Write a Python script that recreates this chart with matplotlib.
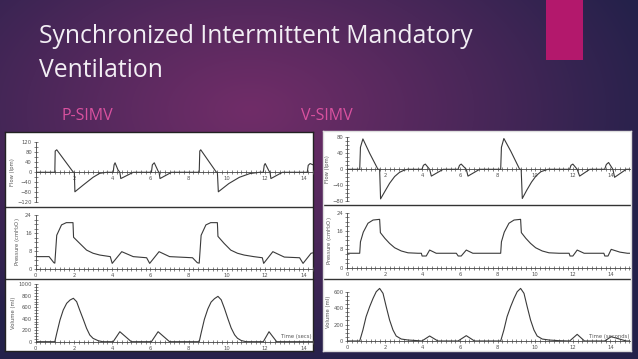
import numpy as np
import matplotlib
matplotlib.use('Agg')
import matplotlib.pyplot as plt
import matplotlib.ticker as mticker

W, H = 638, 359

# ---- P-SIMV (left) waveforms ----
p_flow_t = [0, 1.0, 1.02, 1.1, 1.97, 2.02, 2.05, 2.5, 3.0, 3.35, 3.7, 4.05, 4.1, 4.15, 4.3, 4.4, 4.45, 5.1,
            6.05, 6.1, 6.2, 6.4, 6.45, 6.5, 7.1, 8.55, 8.58, 8.63, 9.45, 9.5, 9.55, 10.1, 10.65, 11.2, 11.7,
            11.9, 11.95, 12.0, 12.2, 12.25, 12.3, 12.9, 14.2, 14.25, 14.35, 14.5]
p_flow_v = [0, 0, 85, 90, 0, 0, -78, -50, -20, -4, 0, 0, 30, 38, 10, 0, -25, 0,
            0, 30, 38, 5, 0, -25, 0, 0, 85, 90, 0, 0, -78, -45, -20, -5, 0,
            0, 28, 35, 5, 0, -25, 0, 0, 28, 35, 30]
p_pres_t = [0, 0.7, 0.95, 1.0, 1.1, 1.35, 1.6, 1.95, 1.98, 2.3, 2.66, 3.0, 3.35, 3.9, 4.0, 4.5, 5.1, 5.8,
            5.96, 6.45, 7.0, 8.2, 8.45, 8.55, 8.65, 8.9, 9.15, 9.5, 9.53, 9.85, 10.2, 10.55, 10.9, 11.4, 11.85,
            11.92, 12.4, 13.0, 13.8, 13.98, 14.4, 14.5]
p_pres_v = [5.5, 5.5, 2.8, 2.6, 15.0, 19.6, 20.6, 20.6, 14.1, 11.4, 8.4, 7.0, 6.2, 5.5, 2.5, 7.7, 5.5, 5.0,
            2.5, 7.7, 5.5, 5.0, 2.8, 2.6, 15.0, 19.6, 20.6, 20.6, 14.5, 11.4, 8.4, 7.0, 6.2, 5.5, 5.0,
            2.5, 7.7, 5.3, 5.0, 2.5, 7.0, 7.2]
p_vol_t = [0, 1.0, 1.1, 1.27, 1.44, 1.62, 1.8, 1.97, 2.14, 2.3, 2.5, 2.66, 2.83, 3.0, 3.27, 3.5, 4.05, 4.4, 5.0,
           6.05, 6.4, 7.0, 8.55, 8.65, 8.82, 9.0, 9.17, 9.35, 9.53, 9.7, 9.87, 10.05, 10.22, 10.4, 10.55, 10.75, 11.0,
           11.9, 12.2, 12.6, 14.5]
p_vol_v = [0, 0, 145, 378, 552, 669, 727, 756, 698, 552, 378, 233, 116, 58, 17, 0, 0, 174, 0,
           0, 174, 0, 0, 150, 390, 570, 690, 750, 790, 730, 580, 400, 240, 120, 60, 20, 0,
           0, 174, 0, 0]

# ---- V-SIMV (right) waveforms ----
v_flow_t = [0, 0.66, 0.7, 0.83, 1.19, 1.63, 1.72, 1.77, 1.99, 2.25, 2.52, 2.78, 3.05, 3.2, 3.97, 4.05, 4.15, 4.38,
            4.47, 5.1, 5.89, 5.97, 6.06, 6.33, 6.42, 7.04, 8.16, 8.2, 8.33, 8.7, 9.17, 9.25, 9.31, 9.55, 9.8, 10.05,
            10.3, 10.67, 11.83, 11.9, 12.0, 12.23, 12.36, 12.9, 13.69, 13.78, 13.9, 14.13, 14.22, 14.84, 15.04]
v_flow_v = [0, 0, 55, 76, 40, 0, 0, -74, -56, -35, -18, -7.5, -1.7, 0, 0, 10, 13, 0,
            -17, 0, 0, 10, 13, 0, -17, 0, 0, 55, 77, 45, 0, 0, -73, -52, -32, -16,
            -6, 0, 0, 10, 13, 0, -17, 0, 0, 12, 17, 0, -20, 0, 0]
v_pres_t = [0, 0.66, 0.7, 0.85, 1.1, 1.37, 1.72, 1.76, 2.0, 2.25, 2.52, 2.87, 3.23, 3.76, 3.94, 3.98, 4.2,
            4.38, 4.73, 5.8, 5.9, 6.06, 6.33, 6.68, 8.16, 8.2, 8.35, 8.6, 8.87, 9.22, 9.26, 9.5, 9.75, 10.02,
            10.37, 10.73, 11.26, 11.8, 11.85, 12.0, 12.23, 12.6, 13.65, 13.7, 13.87, 14.04, 14.5, 14.9, 15.04]
v_pres_v = [6.3, 6.3, 11.3, 15.5, 19.4, 20.8, 21.1, 15.3, 12.8, 10.6, 8.7, 7.3, 6.5, 6.3, 6.3, 5.1, 5.1,
            7.7, 6.3, 6.3, 5.1, 5.1, 7.7, 6.3, 6.3, 11.3, 15.5, 19.4, 20.8, 21.1, 15.3, 12.8, 10.6, 8.7,
            7.3, 6.5, 6.3, 6.3, 5.1, 5.1, 7.7, 6.3, 6.3, 5.1, 5.1, 8.0, 6.8, 6.3, 6.3]
v_vol_t = [0, 0.66, 0.83, 1.0, 1.19, 1.37, 1.54, 1.72, 1.9, 2.07, 2.25, 2.43, 2.6, 2.87, 3.23, 3.76, 3.97, 4.38,
           4.82, 5.89, 6.33, 6.77, 8.16, 8.33, 8.5, 8.69, 8.87, 9.04, 9.22, 9.4, 9.57, 9.75, 9.93, 10.1, 10.37,
           10.73, 11.26, 11.83, 12.23, 12.62, 13.69, 14.04, 14.84, 15.04]
v_vol_v = [0, 0, 134, 296, 418, 519, 600, 640, 580, 418, 255, 134, 61, 24, 12, 4, 0, 61,
           0, 0, 65, 0, 0, 134, 296, 418, 519, 600, 640, 580, 418, 255, 134, 61, 24,
           12, 4, 0, 81, 0, 0, 53, 0, 0]

fig = plt.figure(figsize=(W / 100, H / 100), dpi=100)

# background gradient of the slide
bg = fig.add_axes([0, 0, 1, 1])
yy, xx = np.mgrid[0:H, 0:W]
r = np.sqrt(((xx - 250) / 420.0) ** 2 + ((yy - 110) / 260.0) ** 2)
r = np.clip(r, 0, 1) ** 1.1
c0 = np.array([0x70, 0x2d, 0x68]) / 255
c1 = np.array([0x24, 0x21, 0x4a]) / 255
img = c0[None, None, :] * (1 - r[..., None]) + c1[None, None, :] * r[..., None]
bg.imshow(img, extent=(0, W, H, 0), aspect='auto')
bg.set_xlim(0, W)
bg.set_ylim(H, 0)
bg.axis('off')
bg.add_patch(plt.Rectangle((546, 0), 37, 60, color='#b3186c', lw=0))

fig.text(39 / W, 1 - 43 / H, 'Synchronized Intermittent Mandatory', family='Open Sans',
         fontsize=17.8, color='#f2eef4', va='baseline', ha='left')
fig.text(39 / W, 1 - 77 / H, 'Ventilation', family='Open Sans',
         fontsize=17.8, color='#f2eef4', va='baseline', ha='left')
fig.text(62 / W, 1 - 120 / H, 'P-SIMV', family='Open Sans', fontsize=11.5, color='#d9519f',
         va='baseline', ha='left')
fig.text(301 / W, 1 - 120 / H, 'V-SIMV', family='Open Sans', fontsize=11.5, color='#d9519f',
         va='baseline', ha='left')


def px_axes(x0, y0, x1, y1):
    return fig.add_axes([x0 / W, 1 - y1 / H, (x1 - x0) / W, (y1 - y0) / H])


def panel(x0, y0, x1, y1, seps, edge):
    ax = px_axes(x0, y0, x1, y1)
    ax.set_xlim(x0, x1)
    ax.set_ylim(y1, y0)
    ax.set_facecolor('white')
    ax.set_xticks([])
    ax.set_yticks([])
    for s in ax.spines.values():
        s.set_color(edge)
        s.set_linewidth(1.0)
    for s in seps:
        ax.axhline(s, color='#333333', lw=1.0)
    return ax


def trace(box, t, v, xmax, ylim, yticks, yminor, ylabel, zero_axis=False, tlabel=None):
    ax = px_axes(*box)
    ax.patch.set_alpha(0)
    ax.plot(t, v, color='#3a3a3a', lw=0.8)
    ax.set_xlim(0, xmax)
    ax.set_ylim(*ylim)
    for s in ['top', 'right']:
        ax.spines[s].set_visible(False)
    ax.spines['left'].set_position(('data', 0))
    ax.spines['left'].set_bounds(min(yticks), max(yticks))
    if zero_axis:
        ax.spines['bottom'].set_position(('data', 0))
    for s in ['left', 'bottom']:
        ax.spines[s].set_color('#444444')
        ax.spines[s].set_linewidth(0.6)
    ax.set_xticks(np.arange(0, 15, 2))
    labels = [str(x) for x in range(0, 15, 2)]
    if zero_axis:
        labels[0] = ''
    ax.set_xticklabels(labels)
    ax.xaxis.set_minor_locator(mticker.MultipleLocator(0.25))
    ax.set_yticks(yticks)
    ax.yaxis.set_minor_locator(mticker.FixedLocator(
        np.arange(min(yticks), max(yticks) + yminor / 2, yminor)))
    ax.tick_params(which='both', direction='inout', colors='#555555', width=0.5,
                   labelsize=3.8, pad=1)
    ax.tick_params(which='major', length=3.5)
    ax.tick_params(which='minor', length=2.2)
    ax.set_ylabel(ylabel, fontsize=3.8, color='#555555', labelpad=2)
    if tlabel:
        ax.text(xmax - 0.05, max(yticks) * 0.04, tlabel, fontsize=3.8, color='#555555',
                ha='right', va='bottom')
    return ax


# left picture (P-SIMV)
panel(5, 132, 313, 351, [207, 279], '#222222')
lx0, lx1 = 35.7, 313
trace((lx0, 142.3, lx1, 202.3), p_flow_t, p_flow_v, 14.5, (-120, 120),
      [-120, -80, -40, 0, 40, 80, 120], 20, 'Flow (lpm)', zero_axis=True)
trace((lx0, 215, lx1, 269), p_pres_t, p_pres_v, 14.5, (0, 24),
      [0, 8, 16, 24], 2, 'Pressure (cmH$_2$O)')
trace((lx0, 284.3, lx1, 341.7), p_vol_t, p_vol_v, 14.5, (0, 1000),
      [0, 200, 400, 600, 800, 1000], 50, 'Volume (ml)', tlabel='Time (secs)')

# right picture (V-SIMV)
panel(323, 131, 631, 351, [205, 279], '#dddddd')
rx0, rx1 = 347.3, 630
trace((rx0, 137.3, rx1, 201.3), v_flow_t, v_flow_v, 15.04, (-80, 80),
      [-80, -40, 0, 40, 80], 10, 'Flow (lpm)', zero_axis=True)
trace((rx0, 212.7, rx1, 267.7), v_pres_t, v_pres_v, 15.04, (0, 24),
      [0, 8, 16, 24], 2, 'Pressure (cmH$_2$O)')
trace((rx0, 282, rx1, 341), v_vol_t, v_vol_v, 15.04, (0, 718),
      [0, 200, 400, 600], 50, 'Volume (ml)', tlabel='Time (seconds)')

fig.savefig('out.png', dpi=100)
